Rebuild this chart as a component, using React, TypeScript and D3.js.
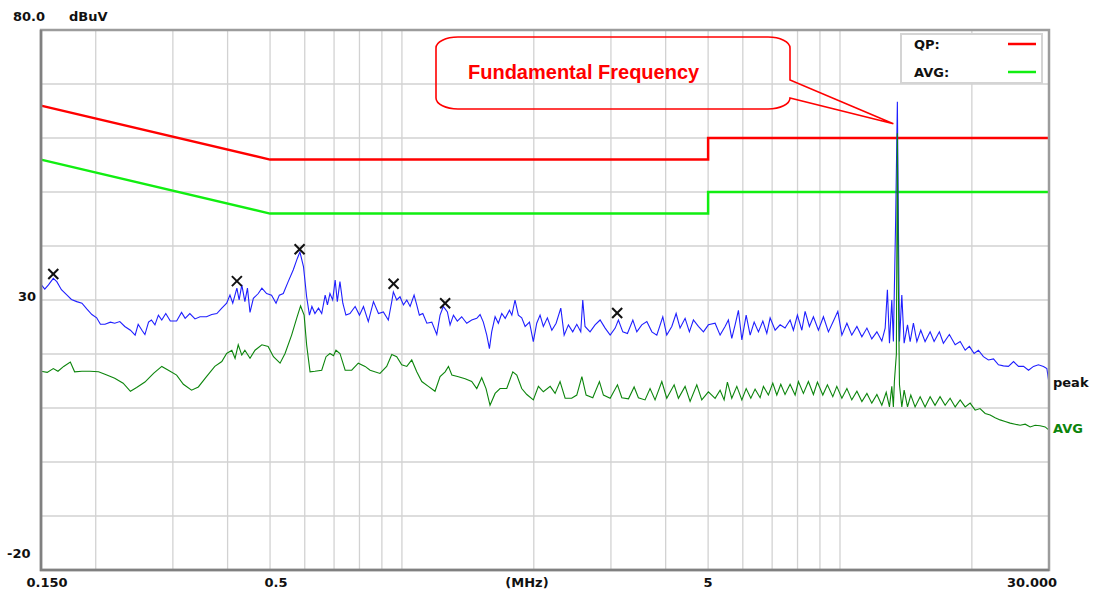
import React, { useEffect, useRef } from "react";
import * as d3 from "d3";

// frequency in MHz, level in dBuV
const peakTrace: [number, number][] = [
  [0.150, 32.9], [0.153, 32.0], [0.156, 32.8], [0.160, 34.0], [0.163, 33.4], [0.167, 31.9], [0.172, 30.9],
  [0.176, 30.1], [0.181, 29.7], [0.186, 29.4], [0.191, 28.3], [0.196, 27.3], [0.201, 26.7], [0.205, 25.5],
  [0.210, 25.5], [0.216, 25.9], [0.221, 25.7], [0.227, 26.0], [0.233, 25.1], [0.240, 24.4], [0.246, 23.5],
  [0.250, 25.5], [0.255, 24.4], [0.259, 23.6], [0.264, 25.9], [0.268, 26.3], [0.273, 25.4], [0.278, 27.2],
  [0.283, 26.3], [0.289, 27.5], [0.296, 26.1], [0.306, 26.1], [0.314, 27.7], [0.320, 26.6], [0.328, 27.5],
  [0.337, 26.5], [0.346, 26.9], [0.358, 26.9], [0.368, 27.3], [0.378, 27.5], [0.388, 28.5], [0.398, 29.4],
  [0.405, 30.9], [0.411, 29.4], [0.420, 32.2], [0.425, 30.0], [0.431, 32.8], [0.438, 29.7], [0.444, 32.2],
  [0.450, 27.7], [0.458, 30.3], [0.470, 31.2], [0.479, 32.2], [0.491, 31.2], [0.504, 30.9], [0.516, 29.4],
  [0.525, 30.9], [0.536, 31.2], [0.550, 33.4], [0.565, 35.6], [0.577, 37.7], [0.585, 38.9], [0.596, 36.2],
  [0.606, 30.6], [0.615, 27.2], [0.623, 28.8], [0.633, 27.5], [0.645, 28.5], [0.656, 27.5], [0.668, 30.9],
  [0.676, 29.1], [0.685, 31.2], [0.695, 30.0], [0.704, 33.7], [0.712, 29.7], [0.722, 33.4], [0.733, 29.4],
  [0.745, 27.2], [0.761, 27.5], [0.782, 28.8], [0.800, 27.2], [0.817, 28.8], [0.838, 26.0], [0.861, 29.7],
  [0.884, 27.5], [0.907, 27.8], [0.931, 26.3], [0.948, 29.7], [0.956, 31.5], [0.973, 30.0], [0.990, 30.6],
  [1.008, 29.1], [1.026, 30.0], [1.044, 28.8], [1.066, 30.9], [1.081, 29.1], [1.096, 27.2], [1.116, 27.5],
  [1.140, 25.7], [1.170, 25.9], [1.201, 23.6], [1.222, 27.2], [1.243, 28.8], [1.270, 27.8], [1.288, 25.4],
  [1.311, 27.2], [1.338, 26.1], [1.369, 26.9], [1.406, 25.7], [1.443, 26.3], [1.482, 26.6], [1.508, 27.3],
  [1.534, 25.9], [1.562, 23.5], [1.584, 21.0], [1.603, 24.1], [1.632, 26.9], [1.660, 25.7], [1.690, 27.5],
  [1.721, 26.6], [1.760, 28.1], [1.782, 27.2], [1.812, 30.0], [1.844, 27.2], [1.877, 26.7], [1.911, 25.1],
  [1.955, 25.9], [1.995, 22.3], [2.031, 25.7], [2.067, 27.2], [2.103, 25.1], [2.148, 26.7], [2.199, 24.4],
  [2.249, 25.7], [2.305, 28.5], [2.346, 23.5], [2.399, 25.4], [2.454, 24.1], [2.507, 25.5], [2.560, 24.1],
  [2.587, 30.0], [2.618, 25.1], [2.688, 24.1], [2.760, 25.4], [2.834, 26.3], [2.910, 24.8], [2.988, 23.5],
  [3.068, 24.8], [3.120, 26.3], [3.193, 24.1], [3.272, 23.8], [3.366, 26.3], [3.437, 24.1], [3.528, 25.4],
  [3.623, 26.0], [3.720, 24.1], [3.818, 23.5], [3.940, 26.9], [4.023, 23.5], [4.131, 25.1], [4.226, 27.5],
  [4.315, 24.8], [4.430, 26.6], [4.531, 24.1], [4.628, 26.3], [4.751, 25.1], [4.878, 24.1], [5.007, 25.4],
  [5.187, 25.7], [5.325, 23.5], [5.466, 25.1], [5.562, 26.3], [5.662, 22.9], [5.762, 25.4], [5.863, 28.1],
  [5.970, 22.6], [6.107, 27.2], [6.236, 23.5], [6.369, 25.9], [6.514, 24.1], [6.666, 26.1], [6.807, 23.8],
  [6.927, 26.7], [7.111, 24.4], [7.300, 25.4], [7.491, 24.8], [7.693, 26.3], [7.828, 24.4], [7.995, 27.2],
  [8.183, 24.4], [8.325, 27.9], [8.515, 25.1], [8.696, 26.9], [8.928, 24.4], [9.166, 26.9], [9.410, 24.1],
  [9.661, 26.1], [9.887, 27.9], [10.10, 23.5], [10.37, 25.7], [10.64, 23.5], [10.93, 25.1], [11.22, 23.2],
  [11.52, 24.8], [11.82, 22.8], [12.14, 24.1], [12.46, 22.4], [12.68, 24.8], [12.83, 31.9], [12.97, 22.0],
  [13.13, 30.0], [13.24, 22.3], [13.40, 45.0], [13.52, 66.7], [13.58, 48.0], [13.67, 22.3], [13.84, 30.9],
  [14.01, 22.0], [14.26, 25.4], [14.46, 22.3], [14.71, 25.7], [14.98, 22.3], [15.29, 24.4], [15.64, 22.3],
  [16.06, 24.1], [16.40, 22.3], [16.86, 24.1], [17.22, 22.0], [17.77, 23.6], [18.32, 21.7], [18.81, 22.3],
  [19.31, 20.7], [19.74, 21.4], [20.24, 20.1], [20.70, 20.7], [21.25, 19.5], [21.82, 18.9], [22.41, 19.1],
  [23.00, 18.0], [23.61, 17.8], [24.24, 17.7], [24.90, 18.6], [25.56, 17.7], [26.24, 17.7], [26.94, 17.0],
  [27.65, 17.7], [28.38, 18.0], [29.14, 17.7], [29.67, 17.3], [30.00, 14.6],
];

const avgTrace: [number, number][] = [
  [0.150, 16.8], [0.155, 16.6], [0.160, 17.3], [0.164, 16.8], [0.169, 17.7], [0.175, 18.5], [0.179, 16.7],
  [0.186, 16.8], [0.194, 16.8], [0.203, 16.7], [0.212, 16.1], [0.221, 15.5], [0.231, 14.6], [0.240, 13.1],
  [0.248, 13.8], [0.259, 14.8], [0.271, 16.4], [0.283, 17.7], [0.293, 17.0], [0.306, 16.1], [0.317, 14.4],
  [0.331, 13.3], [0.343, 13.9], [0.358, 15.8], [0.374, 17.7], [0.388, 18.6], [0.398, 20.1], [0.409, 20.7],
  [0.416, 19.2], [0.423, 21.7], [0.431, 19.8], [0.438, 20.7], [0.450, 19.2], [0.462, 20.7], [0.479, 21.7],
  [0.495, 21.4], [0.509, 19.5], [0.527, 18.3], [0.541, 20.1], [0.560, 23.5], [0.575, 26.6], [0.587, 28.9],
  [0.598, 27.2], [0.606, 21.7], [0.617, 16.7], [0.633, 16.8], [0.656, 17.0], [0.671, 19.5], [0.685, 20.1],
  [0.698, 19.7], [0.707, 20.7], [0.722, 20.1], [0.742, 17.0], [0.768, 17.0], [0.795, 18.3], [0.824, 17.7],
  [0.846, 17.0], [0.891, 16.4], [0.923, 17.7], [0.948, 19.9], [0.973, 19.5], [0.999, 18.0], [1.026, 17.7],
  [1.053, 18.9], [1.081, 16.7], [1.110, 14.9], [1.149, 14.0], [1.190, 13.1], [1.222, 15.8], [1.255, 16.7],
  [1.277, 17.7], [1.300, 16.1], [1.346, 15.8], [1.394, 15.4], [1.443, 14.9], [1.482, 13.6], [1.521, 15.6],
  [1.556, 13.6], [1.589, 10.5], [1.632, 12.7], [1.675, 13.6], [1.735, 13.6], [1.791, 16.7], [1.829, 16.1],
  [1.877, 13.6], [1.928, 12.5], [1.995, 11.5], [2.049, 14.0], [2.103, 13.0], [2.180, 14.0], [2.237, 12.7],
  [2.296, 14.9], [2.358, 11.8], [2.440, 11.8], [2.507, 12.4], [2.575, 15.8], [2.633, 12.4], [2.727, 11.9],
  [2.824, 14.9], [2.884, 12.4], [2.988, 11.8], [3.105, 14.3], [3.177, 11.9], [3.290, 11.7], [3.389, 13.9],
  [3.466, 11.9], [3.589, 11.5], [3.685, 13.6], [3.783, 11.5], [3.920, 14.9], [4.023, 11.8], [4.182, 14.3],
  [4.277, 11.8], [4.430, 14.0], [4.548, 11.2], [4.711, 14.3], [4.836, 11.5], [5.007, 13.0], [5.187, 11.8],
  [5.325, 13.3], [5.439, 11.5], [5.533, 14.8], [5.662, 11.8], [5.814, 14.0], [5.970, 11.5], [6.107, 13.6],
  [6.258, 11.8], [6.400, 13.5], [6.571, 11.9], [6.687, 14.0], [6.864, 12.4], [7.024, 14.6], [7.174, 12.4],
  [7.326, 14.4], [7.491, 12.5], [7.693, 14.4], [7.899, 12.4], [8.037, 14.9], [8.250, 12.7], [8.470, 14.9],
  [8.696, 12.5], [8.881, 14.8], [9.137, 12.4], [9.360, 14.3], [9.629, 12.1], [9.834, 14.0], [10.10, 11.8],
  [10.37, 13.6], [10.64, 11.5], [10.93, 13.1], [11.22, 11.2], [11.52, 12.7], [11.82, 10.9], [12.14, 12.5],
  [12.46, 10.5], [12.75, 12.9], [12.97, 10.2], [13.13, 14.0], [13.24, 10.2], [13.31, 14.9], [13.45, 20.0],
  [13.52, 60.9], [13.58, 35.0], [13.67, 14.3], [13.84, 10.2], [14.01, 13.3], [14.26, 10.2], [14.51, 12.4],
  [14.84, 10.2], [15.24, 12.1], [15.64, 10.2], [16.06, 12.1], [16.48, 10.5], [16.92, 12.1], [17.38, 10.5],
  [17.84, 11.8], [18.32, 10.2], [18.81, 11.5], [19.31, 10.2], [19.82, 10.9], [20.35, 9.6], [20.88, 9.9],
  [21.45, 9.0], [22.02, 8.7], [22.60, 8.2], [23.20, 7.8], [23.82, 7.5], [24.46, 7.2], [25.11, 7.0],
  [25.78, 6.8], [26.47, 7.0], [27.17, 6.5], [27.89, 6.8], [28.63, 6.7], [29.40, 6.5], [30.00, 5.9],
];

const qpLimit: [number, number][] = [[0.15, 66], [0.5, 56], [5, 56], [5, 60], [30, 60]];
const avgLimit: [number, number][] = [[0.15, 56], [0.5, 46], [5, 46], [5, 50], [30, 50]];

const peakMarkers: [number, number][] = [[0.160, 34.8], [0.420, 33.5], [0.584, 39.4], [0.957, 33.0], [1.255, 29.4], [3.10, 27.6]];

const gridFreqs = [0.2, 0.3, 0.4, 0.5, 0.6, 0.7, 0.8, 0.9, 1, 2, 3, 4, 5, 6, 7, 8, 9, 10, 20];
const gridLevels = [-10, 0, 10, 20, 30, 40, 50, 60, 70];

const App = () => {
  const ref = useRef<SVGSVGElement>(null);

  useEffect(() => {
    const svg = d3.select(ref.current);
    svg.selectAll("*").remove();

    const x = d3.scaleLog().domain([0.15, 30]).range([41, 1049]);
    const y = d3.scaleLinear().domain([-20, 80]).range([570, 30]);
    const label = "DejaVu Sans, sans-serif";

    svg.append("rect").attr("width", 1094).attr("height", 593).attr("fill", "#fff");

    // grid
    svg.append("g").selectAll("line").data(gridFreqs).enter().append("line")
      .attr("x1", (d) => x(d)).attr("x2", (d) => x(d))
      .attr("y1", 30).attr("y2", 570)
      .attr("stroke", "#d2d2d2").attr("stroke-width", 1.3);
    svg.append("g").selectAll("line").data(gridLevels).enter().append("line")
      .attr("x1", 41).attr("x2", 1049)
      .attr("y1", (d) => y(d)).attr("y2", (d) => y(d))
      .attr("stroke", "#d2d2d2").attr("stroke-width", 1.3);

    const line = d3.line<[number, number]>().x((d) => x(d[0])).y((d) => y(d[1]));

    svg.append("path").datum(qpLimit).attr("d", line).attr("fill", "none")
      .attr("stroke", "#ff0000").attr("stroke-width", 2.5);
    svg.append("path").datum(avgLimit).attr("d", line).attr("fill", "none")
      .attr("stroke", "#11ee11").attr("stroke-width", 2.5);

    svg.append("path").datum(peakTrace).attr("d", line).attr("fill", "none")
      .attr("stroke", "#1f1fff").attr("stroke-width", 1.1);
    svg.append("path").datum(avgTrace).attr("d", line).attr("fill", "none")
      .attr("stroke", "#0c850c").attr("stroke-width", 1.1);

    // peak markers
    const mk = svg.append("g").selectAll("g").data(peakMarkers).enter().append("g")
      .attr("transform", (d) => `translate(${x(d[0])},${y(d[1])})`);
    mk.append("line").attr("x1", -5).attr("y1", -5).attr("x2", 5).attr("y2", 5);
    mk.append("line").attr("x1", -5).attr("y1", 5).attr("x2", 5).attr("y2", -5);
    mk.selectAll("line").attr("stroke", "#111").attr("stroke-width", 2);

    // frame
    svg.append("rect").attr("x", 41).attr("y", 30).attr("width", 1008).attr("height", 540)
      .attr("fill", "none").attr("stroke", "#9c9c9c").attr("stroke-width", 2.5);
    svg.append("path").attr("d", "M41,30V570H1049").attr("fill", "none")
      .attr("stroke", "#808080").attr("stroke-width", 2.5);

    // legend
    const lg = svg.append("g");
    lg.append("rect").attr("x", 901).attr("y", 34).attr("width", 141).attr("height", 49)
      .attr("fill", "#fff").attr("stroke", "#d4d4d4").attr("stroke-width", 2);
    lg.append("text").attr("x", 914).attr("y", 49).text("QP:");
    lg.append("text").attr("x", 914).attr("y", 77).text("AVG:");
    lg.selectAll("text").attr("font-family", label).attr("font-weight", "bold")
      .attr("font-size", 13).attr("fill", "#111");
    lg.append("line").attr("x1", 1008).attr("x2", 1036).attr("y1", 44).attr("y2", 44)
      .attr("stroke", "#ff0000").attr("stroke-width", 2.5);
    lg.append("line").attr("x1", 1008).attr("x2", 1036).attr("y1", 72).attr("y2", 72)
      .attr("stroke", "#11ee11").attr("stroke-width", 2.5);

    // callout
    const L = 436, R = 790, T = 37, B = 109, rx = 22, ry = 11;
    const tip = [x(13.52) - 4, y(66.7) + 22];
    svg.append("path")
      .attr("d", `M${L + rx},${T}H${R - rx}A${rx},${ry} 0 0 1 ${R},${T + ry}V80L${tip[0]},${tip[1]}L${R},98` +
        `A${rx},${ry} 0 0 1 ${R - rx},${B}H${L + rx}A${rx},${ry} 0 0 1 ${L},${B - ry}V${T + ry}A${rx},${ry} 0 0 1 ${L + rx},${T}Z`)
      .attr("fill", "none").attr("stroke", "#ff0000").attr("stroke-width", 1.6);
    svg.append("text").attr("x", 468).attr("y", 79).text("Fundamental Frequency")
      .attr("font-family", "Liberation Sans, Arial, sans-serif").attr("font-weight", "bold")
      .attr("font-size", 20).attr("fill", "#ff0000");

    // axis texts
    const texts: [string, number, number, string, string][] = [
      ["80.0", 13, 21, "start", "#111"],
      ["dBuV", 69, 21, "start", "#111"],
      ["30", 36, 301, "end", "#111"],
      ["-20", 7, 558, "start", "#111"],
      ["0.150", 47, 587, "middle", "#111"],
      ["0.5", 276, 587, "middle", "#111"],
      ["(MHz)", 527, 587, "middle", "#111"],
      ["5", 708, 587, "middle", "#111"],
      ["30.000", 1032, 587, "middle", "#111"],
      ["peak", 1053, 387, "start", "#111"],
      ["AVG", 1053, 433, "start", "#0c850c"],
    ];
    svg.append("g").selectAll("text").data(texts).enter().append("text")
      .attr("x", (d) => d[1]).attr("y", (d) => d[2])
      .attr("text-anchor", (d) => d[3]).attr("fill", (d) => d[4])
      .attr("font-family", label).attr("font-weight", "bold").attr("font-size", 13)
      .text((d) => d[0]);
  }, []);

  return (
    <svg ref={ref} width={1094} height={593} style={{ position: "absolute", left: 0, top: 0, display: "block" }}></svg>
  );
};

export default App;
